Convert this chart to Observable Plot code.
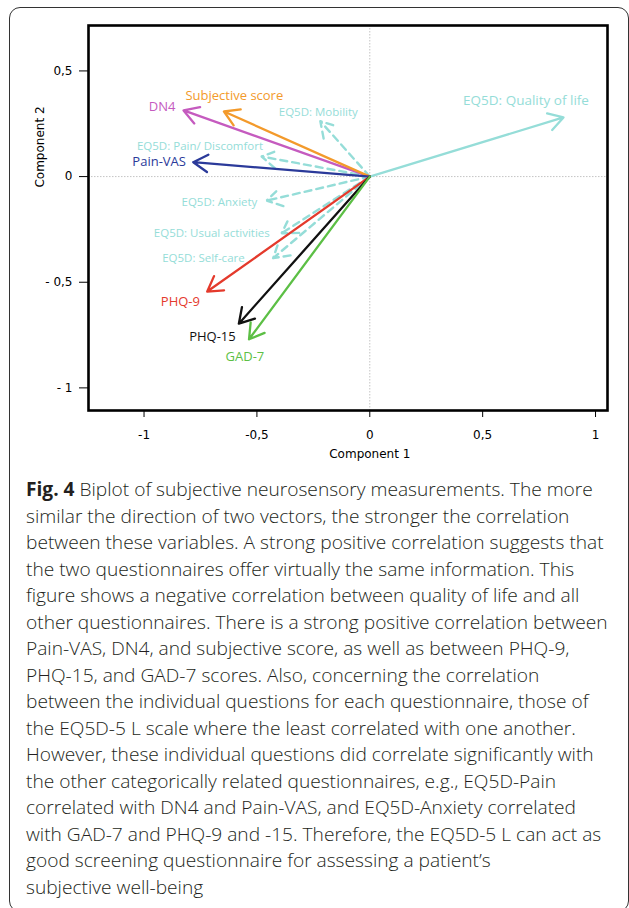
<!DOCTYPE html>
<html>
<head>
<meta charset="utf-8">
<script src="https://cdn.jsdelivr.net/npm/d3@7"></script>
<script src="https://cdn.jsdelivr.net/npm/@observablehq/plot@0.6"></script>
<style>
  html, body { margin: 0; padding: 0; background: #fff; }
  #page { position: relative; width: 629px; height: 908px; overflow: hidden; background: #fff; }
  #box { position: absolute; left: 9px; top: 7px; width: 620px; height: 905px; border: 1.6px solid #333; border-radius: 11px; box-sizing: border-box; }
  #chart { position: absolute; left: 0; top: 0; }
  #caption { position: absolute; left: 26px; top: 476px; font-family: "Open Sans", sans-serif; font-weight: 300; font-size: 17px; line-height: 26.5px; color: #231f20; }
  #caption .ln { white-space: nowrap; }
  #caption b { font-weight: 700; }
</style>
</head>
<body>
<div id="page">
  <div id="box"></div>
  <div id="chart"></div>
  <div id="caption">
    <div class="ln"><span><b>Fig. 4</b> Biplot of subjective neurosensory measurements. The more</span></div>
    <div class="ln"><span>similar the direction of two vectors, the stronger the correlation</span></div>
    <div class="ln"><span id="widest">between these variables. A strong positive correlation suggests that</span></div>
    <div class="ln"><span>the two questionnaires offer virtually the same information. This</span></div>
    <div class="ln"><span>figure shows a negative correlation between quality of life and all</span></div>
    <div class="ln"><span>other questionnaires. There is a strong positive correlation between</span></div>
    <div class="ln"><span>Pain-VAS, DN4, and subjective score, as well as between PHQ-9,</span></div>
    <div class="ln"><span>PHQ-15, and GAD-7 scores. Also, concerning the correlation</span></div>
    <div class="ln"><span>between the individual questions for each questionnaire, those of</span></div>
    <div class="ln"><span>the EQ5D-5 L scale where the least correlated with one another.</span></div>
    <div class="ln"><span>However, these individual questions did correlate significantly with</span></div>
    <div class="ln"><span>the other categorically related questionnaires, e.g., EQ5D-Pain</span></div>
    <div class="ln"><span>correlated with DN4 and Pain-VAS, and EQ5D-Anxiety correlated</span></div>
    <div class="ln"><span>with GAD-7 and PHQ-9 and -15. Therefore, the EQ5D-5 L can act as</span></div>
    <div class="ln"><span>good screening questionnaire for assessing a patient’s</span></div>
    <div class="ln"><span>subjective well-being</span></div>
  </div>
</div>
<script>
// ---- Data ----
const names = ["EQ5D: Quality of life", "EQ5D: Mobility", "EQ5D: Pain/ Discomfort", "EQ5D: Anxiety",
               "EQ5D: Usual activities", "EQ5D: Self-care", "DN4", "Subjective score", "Pain-VAS",
               "PHQ-9", "PHQ-15", "GAD-7"];
const comp1 = [0.858, -0.219, -0.479, -0.457, -0.391, -0.428, -0.825, -0.646, -0.782, -0.720, -0.580, -0.535];
const comp2 = [0.280, 0.262, 0.095, -0.114, -0.269, -0.386, 0.313, 0.308, 0.068, -0.544, -0.696, -0.770];
const dashed = [false, true, true, true, true, true, false, false, false, false, false, false];
const isEQ5D = [true, true, true, true, true, true, false, false, false, false, false, false];
const colors = ["#95ddd8", "#95ddd8", "#95ddd8", "#95ddd8", "#95ddd8", "#95ddd8",
                "#c55bbf", "#f39a2b", "#2b3a9a", "#e43a2c", "#111111", "#5cbf45"];
// label font size groups: large for the quality-of-life item and the main scores
const bigLabel = [true, false, false, false, false, false, true, true, true, true, true, true];
// label anchor positions in data units
const labelX = [0.692, -0.228, -0.752, -0.666, -0.700, -0.737, -0.920, -0.600, -0.933, -0.839, -0.697, -0.553];
const labelY = [0.361, 0.302, 0.142, -0.122, -0.267, -0.386, 0.328, 0.380, 0.068, -0.593, -0.756, -0.853];

const xTicks = [-1, -0.5, 0, 0.5, 1];
const xTickLabels = ["-1", "-0,5", "0", "0,5", "1"];
const yTicks = [0.5, 0, -0.5, -1];
const yTickLabels = ["0,5", "0", "- 0,5", "- 1"];
const xDomain = [-1.246, 1.053];
const yDomain = [-1.107, 0.715];
const xTitle = "Component 1";
const yTitle = "Component 2";
const xTitleAt = 0;      // data x where the x title is centred
const yTitleAt = -0.052; // data y where the y title is centred

const rows = names.map((n, i) => ({
  name: n, x: comp1[i], y: comp2[i], dashed: dashed[i], eq: isEQ5D[i], big: bigLabel[i],
  color: colors[i], lx: labelX[i], ly: labelY[i]
}));
const xLab = new Map(xTicks.map((t, i) => [t, xTickLabels[i]]));
const yLab = new Map(yTicks.map((t, i) => [t, yTickLabels[i]]));

const arrowOpts = {x1: () => 0, y1: () => 0, x2: "x", y2: "y", stroke: "color", strokeWidth: 2.3, headLength: 11, headAngle: 62};

const chart = Plot.plot({
  width: 629, height: 470,
  marginLeft: 88, marginRight: 22, marginTop: 25, marginBottom: 60,
  style: {fontFamily: "DejaVu Sans", fontSize: "12px", color: "#000", background: "transparent"},
  x: {domain: xDomain, ticks: xTicks, tickFormat: d => xLab.get(d), tickSize: 7, tickPadding: 13, label: null},
  y: {domain: yDomain, ticks: yTicks, tickFormat: d => yLab.get(d), tickSize: 9, tickPadding: 7, label: null},
  color: {type: "identity"},
  marks: [
    Plot.ruleX([0], {stroke: "#c4c4c4", strokeDasharray: "1.5,1.5", strokeWidth: 1}),
    Plot.ruleY([0], {stroke: "#c4c4c4", strokeDasharray: "1.5,1.5", strokeWidth: 1}),
    Plot.arrow(rows.filter(d => d.eq && !d.dashed), arrowOpts),
    Plot.arrow(rows.filter(d => d.dashed), {...arrowOpts, strokeWidth: 2.4, strokeDasharray: "7,5"}),
    Plot.arrow(rows.filter(d => !d.eq), arrowOpts),
    Plot.text(rows.filter(d => !d.big), {x: "lx", y: "ly", text: "name", fill: "color", fontFamily: "Open Sans", fontSize: 11.5}),
    Plot.text(rows.filter(d => d.big && d.eq), {x: "lx", y: "ly", text: "name", fill: "color", fontFamily: "Open Sans", fontSize: 13.5}),
    Plot.text(rows.filter(d => !d.eq), {x: "lx", y: "ly", text: "name", fill: "color", fontFamily: "Open Sans", fontSize: 13}),
    Plot.text([xTitle], {text: d => d, x: () => xTitleAt, frameAnchor: "bottom", dy: 47, fontSize: 12}),
    Plot.text([yTitle], {text: d => d, y: () => yTitleAt, frameAnchor: "left", dx: -48, rotate: -90, fontSize: 12}),
    Plot.frame({stroke: "#000", strokeWidth: 2.6})
  ]
});
document.getElementById("chart").appendChild(chart);

function fitCaption() {
  const cap = document.getElementById("caption");
  const w = document.getElementById("widest");
  const base = 17;
  cap.style.fontSize = base + "px";
  const width = w.getBoundingClientRect().width;
  if (width > 0) cap.style.fontSize = (base * 578 / width) + "px";
}
fitCaption();
if (document.fonts && document.fonts.ready) document.fonts.ready.then(fitCaption);
</script>
</body>
</html>
